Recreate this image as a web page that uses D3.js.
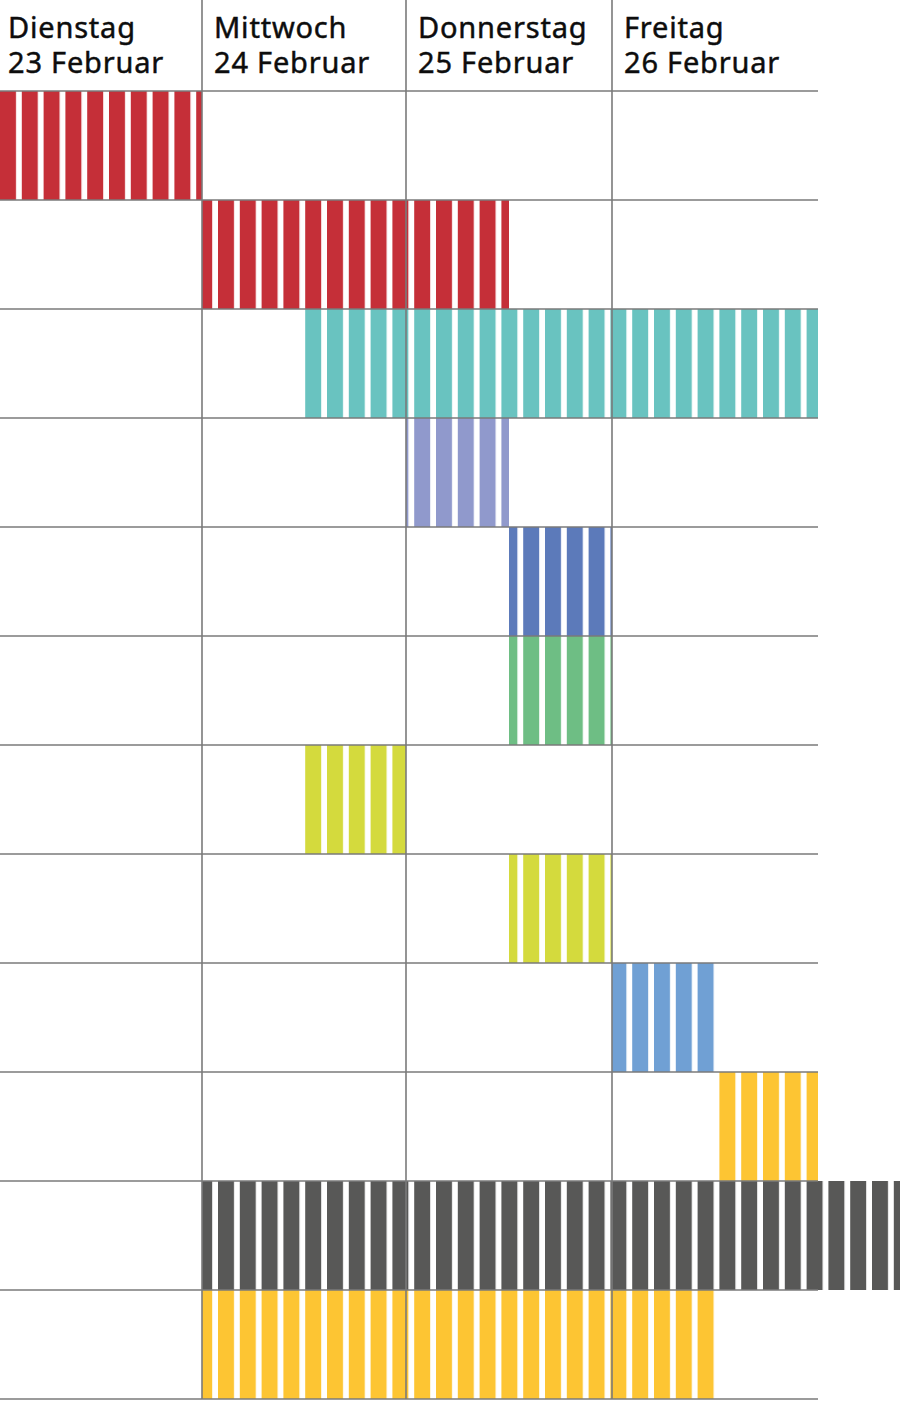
<!DOCTYPE html>
<html>
<head>
<meta charset="utf-8">
<script src="https://cdn.jsdelivr.net/npm/d3@7"></script>
<style>
  html, body { margin: 0; padding: 0; background: #fff; }
  svg { display: block; }
</style>
</head>
<body>
<svg id="chart" width="900" height="1402"></svg>
<script>
// ---- data ----
const dayNames = ["Dienstag", "Mittwoch", "Donnerstag", "Freitag"];
const dayDates = ["23 Februar", "24 Februar", "25 Februar", "26 Februar"];
// each row: start / end in days since Tuesday 00:00
const rowStart = [0, 1, 1.5, 2, 2.5, 2.5, 1.5, 2.5, 3, 3.5, 1, 1];
const rowEnd   = [1, 2.5, 4, 2.5, 3, 3, 2, 3, 3.5, 4, 4.6, 3.5];
const rowColorKey = ["red", "red", "teal", "purple", "blue", "green", "lime", "lime", "lightblue", "yellow", "dark", "yellow"];

// ---- styles ----
const palette = {
  red: "#c52f38",
  teal: "#69c3c0",
  purple: "#9099cc",
  blue: "#5c7aba",
  green: "#6ebe84",
  lime: "#d4da3d",
  lightblue: "#70a0d4",
  yellow: "#fdc533",
  dark: "#585857"
};

const svg = d3.select("#chart");
const W = 900, H = 1402;
const headerBottom = 91, gridBottom = 1399, gridRight = 818;

const x = d3.scaleLinear().domain([0, 1, 2, 3, 4]).range([0, 202, 406, 612, 818]);
const y = d3.scaleBand().domain(d3.range(rowStart.length)).range([headerBottom, gridBottom]).padding(0);

// stripe patterns
const period = 21.8, whiteW = 6.5, whiteX = 16;
const defs = svg.append("defs");
Object.entries(palette).forEach(([k, c]) => {
  const p = defs.append("pattern")
    .attr("id", "stripe-" + k)
    .attr("patternUnits", "userSpaceOnUse")
    .attr("x", 0).attr("y", 0)
    .attr("width", period).attr("height", H);
  p.append("rect").attr("x", 0).attr("y", 0).attr("width", period).attr("height", H).attr("fill", c);
  p.append("rect").attr("x", whiteX).attr("y", 0).attr("width", whiteW).attr("height", H).attr("fill", "#fff");
});

// bars
svg.append("g").selectAll("rect")
  .data(rowStart.map((s, i) => ({ s, e: rowEnd[i], c: rowColorKey[i], i })))
  .join("rect")
  .attr("x", d => x(d.s))
  .attr("y", d => y(d.i))
  .attr("width", d => x(d.e) - x(d.s))
  .attr("height", y.bandwidth())
  .attr("fill", d => "url(#stripe-" + d.c + ")");

// grid
const grid = svg.append("g").attr("stroke", "#7a7a7a").attr("stroke-width", 1.6);
const hLines = d3.range(rowStart.length + 1).map(i => i < rowStart.length ? y(i) : gridBottom);
grid.selectAll("line.h").data(hLines).join("line").attr("class", "h")
  .attr("x1", 0).attr("x2", gridRight).attr("y1", d => d).attr("y2", d => d);
grid.selectAll("line.v").data([1, 2, 3]).join("line").attr("class", "v")
  .attr("x1", d => x(d)).attr("x2", d => x(d)).attr("y1", 0).attr("y2", gridBottom);

// headers (two-line labels)
const hdr = svg.append("g")
  .attr("font-family", "'Noto Sans', 'Open Sans', sans-serif")
  .attr("font-size", 29)
  .attr("letter-spacing", 0.8)
  .attr("fill", "#0d0d0d")
  .attr("stroke", "#0d0d0d")
  .attr("stroke-width", 0.45);
dayNames.forEach((n, i) => {
  const tx = x(i) + (i === 0 ? 8 : 12);
  const t = hdr.append("text").attr("x", tx).attr("y", 38);
  t.append("tspan").attr("x", tx).attr("y", 38).text(n);
  t.append("tspan").attr("x", tx).attr("y", 73).text(dayDates[i]);
});
</script>
</body>
</html>
